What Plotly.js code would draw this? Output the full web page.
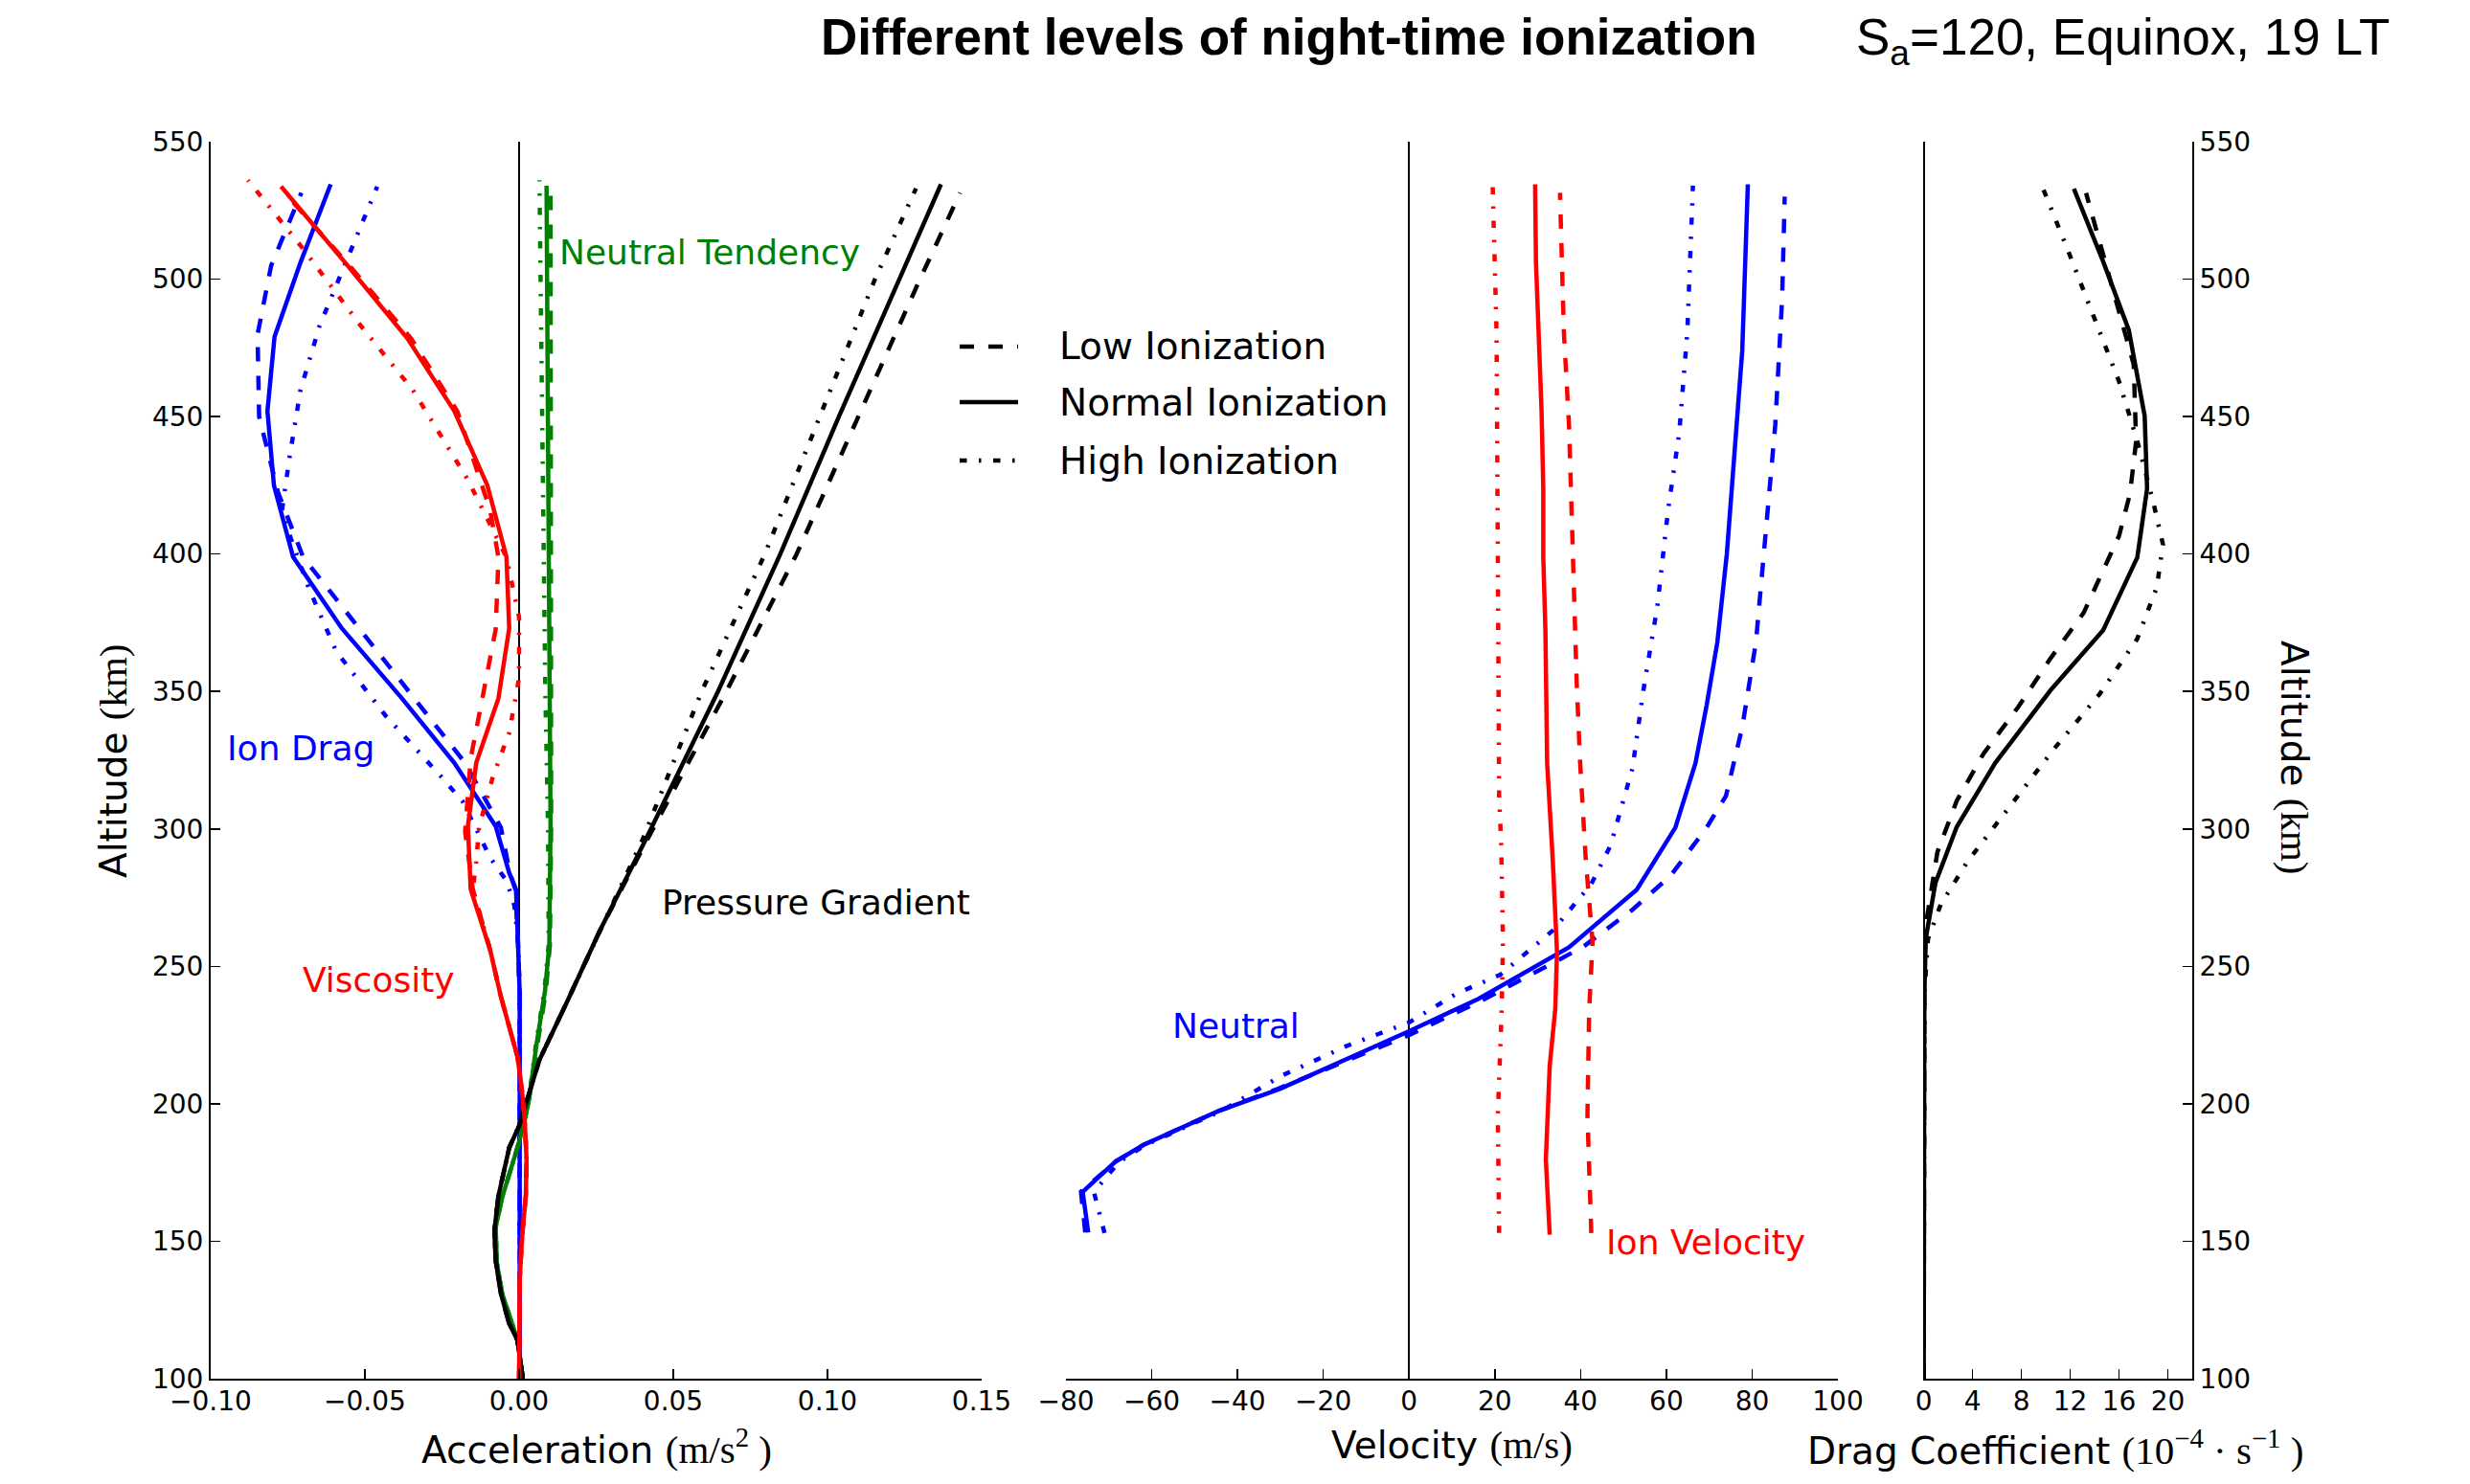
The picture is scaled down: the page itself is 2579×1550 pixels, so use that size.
<!DOCTYPE html>
<html>
<head>
<meta charset="utf-8">
<script src="https://cdn.plot.ly/plotly-3.0.1.min.js"></script>
<style>html,body{margin:0;padding:0;background:#fff;}</style>
</head>
<body>
<div id="chart" style="width:2579px;height:1550px;"></div>
<script>
// ---------------- Panel 1 : Acceleration (m/s^2) ----------------
const ionDragNormalAlt = [100, 150, 200, 240, 260, 278, 284, 301, 324, 347.5, 373, 399, 425, 452, 479, 506, 534.5];
const ionDragNormal    = [0.0002, 0.0002, 0.0002, 0.0002, -0.0004, -0.0010, -0.0032, -0.0076, -0.0210, -0.0380, -0.0575, -0.0733, -0.0795, -0.0816, -0.0793, -0.0709, -0.0611];
const ionDragLowAlt    = [100, 150, 200, 240, 260, 278, 284, 300.5, 324, 350.6, 375.5, 398.8, 422.2, 450, 479.9, 504.9, 531.4];
const ionDragLow       = [0.0002, 0.0002, 0.0002, 0.0002, -0.0004, -0.0012, -0.0030, -0.0059, -0.0175, -0.0362, -0.0540, -0.0700, -0.0781, -0.0843, -0.0848, -0.0804, -0.0706];
const ionDragHighAlt   = [100, 150, 200, 240, 260, 272, 281, 289.6, 310, 319.3, 341.2, 364.6, 387.9, 415, 434.7, 459.6, 483, 509.5, 533.7];
const ionDragHigh      = [0.0002, 0.0002, 0.0002, 0.0002, -0.0004, -0.0015, -0.0040, -0.0094, -0.0183, -0.0255, -0.0433, -0.0593, -0.0683, -0.0770, -0.0745, -0.0709, -0.0647, -0.0549, -0.0460];

const viscNormalAlt = [100, 105, 136, 152, 167, 180, 195, 206, 217, 239, 256, 278, 301, 324, 347.5, 373, 399, 425, 452, 478.4, 506.4, 533.7];
const viscNormal    = [0.0000, 0.0000, 0.0002, 0.0010, 0.0022, 0.0024, 0.0018, 0.0008, -0.0005, -0.0059, -0.0094, -0.0157, -0.0166, -0.0139, -0.0067, -0.0032, -0.0041, -0.0103, -0.0210, -0.0362, -0.0567, -0.0772];
const viscLowAlt    = [100, 105, 136, 152, 167, 180, 195, 206, 217, 239, 256, 278, 299, 325.6, 350.7, 372.5, 398.8, 416, 451.9, 478.4, 504.9, 531.4];
const viscLow       = [0.0000, 0.0000, 0.0002, 0.0010, 0.0022, 0.0024, 0.0018, 0.0008, -0.0005, -0.0059, -0.0094, -0.0150, -0.0175, -0.0157, -0.0112, -0.0076, -0.0067, -0.0094, -0.0200, -0.0350, -0.0550, -0.0760];
const viscHighAlt   = [100, 105, 136, 152, 167, 180, 195, 206, 217, 239, 256, 278, 288, 300.5, 319, 335, 355, 377, 398.8, 427, 459.6, 483, 511, 536];
const viscHigh      = [0.0000, 0.0000, 0.0002, 0.0010, 0.0022, 0.0024, 0.0018, 0.0008, -0.0005, -0.0059, -0.0094, -0.0150, -0.0139, -0.0130, -0.0085, -0.0032, 0.0000, 0.0000, -0.0041, -0.0166, -0.0344, -0.0513, -0.0700, -0.0879];

const tendNormalAlt = [100, 114, 131, 142, 155, 166, 186, 200, 222, 241, 258, 302, 420, 534];
const tendNormal    = [0.0012, -0.0005, -0.0055, -0.0072, -0.0076, -0.0055, 0.0000, 0.0030, 0.0057, 0.0084, 0.0098, 0.0102, 0.0095, 0.0089];
const tendLowAlt    = [100, 114, 131, 142, 155, 166, 186, 200, 222, 241, 258, 302, 420, 531];
const tendLow       = [0.0012, -0.0005, -0.0055, -0.0072, -0.0076, -0.0055, 0.0000, 0.0030, 0.0060, 0.0087, 0.0100, 0.0104, 0.0103, 0.0102];
const tendHighAlt   = [100, 114, 131, 142, 155, 166, 186, 200, 222, 241, 258, 300, 350, 450, 536];
const tendHigh      = [0.0012, -0.0005, -0.0055, -0.0072, -0.0076, -0.0055, 0.0000, 0.0030, 0.0055, 0.0082, 0.0096, 0.0094, 0.0085, 0.0075, 0.0066];

const pressNormalAlt = [100, 114, 120, 131, 143, 154, 166.5, 184, 192, 200, 216, 237, 263, 296, 350, 400, 450, 500, 534.5];
const pressNormal    = [0.0012, -0.0005, -0.0032, -0.0059, -0.0076, -0.0080, -0.0067, -0.0032, 0.0000, 0.0022, 0.0066, 0.0155, 0.0262, 0.0410, 0.0645, 0.0847, 0.1037, 0.1233, 0.1368];
const pressLowAlt    = [100, 114, 120, 131, 143, 154, 166.5, 184, 192, 200, 216, 237, 263, 296, 350, 400, 450, 500, 531.4];
const pressLow       = [0.0012, -0.0005, -0.0032, -0.0059, -0.0076, -0.0080, -0.0067, -0.0032, 0.0000, 0.0022, 0.0066, 0.0155, 0.0262, 0.0415, 0.0672, 0.0900, 0.1100, 0.1300, 0.1430];
const pressHighAlt   = [100, 114, 120, 131, 143, 154, 166.5, 184, 192, 200, 216, 237, 263, 296, 350, 400, 450, 500, 533];
const pressHigh      = [0.0012, -0.0005, -0.0032, -0.0059, -0.0076, -0.0080, -0.0067, -0.0032, 0.0000, 0.0022, 0.0066, 0.0155, 0.0262, 0.0400, 0.0592, 0.0797, 0.0975, 0.1154, 0.1287];

// ---------------- Panel 2 : Velocity (m/s) ----------------
const neutralNormalAlt = [153.2, 168, 179, 185, 197.6, 205.5, 226.5, 238.2, 256.9, 277.9, 300.5, 324, 345, 368, 400, 447, 474, 534.5];
const neutralNormal    = [-74.8, -76.1, -68.4, -62.0, -44.1, -30.0, 0.15, 16.2, 37.3, 53.1, 62.1, 66.8, 69.4, 71.9, 74.1, 76.4, 77.7, 79.0];
const neutralLowAlt    = [153.2, 168, 179, 185, 197.6, 205.5, 225, 238, 257, 270.6, 283, 300.5, 312, 337, 368, 416, 447, 493, 530];
const neutralLow       = [-75.5, -76.5, -68.4, -62.0, -44.1, -30.5, 0.0, 17.5, 40.5, 52.1, 61.0, 69.4, 73.9, 77.7, 80.9, 83.5, 85.4, 87.0, 87.6];
const neutralHighAlt   = [153, 168, 179, 185, 197.6, 210, 221, 229.6, 240, 247, 263, 280, 294, 322, 350, 381, 416, 444, 481, 534];
const neutralHigh      = [-71.0, -73.5, -67.5, -61.5, -43.5, -30.0, -14.6, 0.0, 11.0, 21.3, 33.5, 42.5, 47.0, 52.1, 54.6, 57.9, 60.4, 63.0, 64.9, 66.2];

const ionVelNormalAlt = [152.4, 179.7, 213.8, 234.5, 255.4, 289, 324, 372, 399, 424, 452, 506, 534.5];
const ionVelNormal    = [32.8, 31.9, 32.8, 34.1, 34.5, 33.5, 32.2, 31.8, 31.3, 31.3, 30.9, 29.6, 29.4];
const ionVelLowAlt    = [153, 196, 234, 259, 289, 324, 353, 384.6, 416, 447, 481, 531.4];
const ionVelLow       = [42.5, 41.6, 42.0, 42.8, 41.2, 39.9, 39.1, 38.4, 37.9, 37.3, 36.1, 35.2];
const ionVelHighAlt   = [153, 196, 234, 259, 294, 312, 400, 481, 534];
const ionVelHigh      = [21.0, 20.7, 21.6, 21.9, 21.5, 21.0, 20.7, 20.4, 19.5];

// ---------------- Panel 3 : Drag coefficient (1e-4 s^-1) ----------------
const dragNormalAlt = [100, 200, 225, 240, 260.2, 280.4, 300.7, 324, 350.5, 372.3, 398.8, 423.8, 450.3, 481.5, 506.4, 532.9];
const dragNormal    = [0, 0, 0.02, 0.05, 0.17, 0.96, 2.7, 5.86, 10.4, 14.7, 17.5, 18.3, 18.1, 16.8, 14.7, 12.3];
const dragLowAlt    = [100, 200, 240, 262, 269.5, 291.6, 310.2, 327.4, 344.4, 361.5, 378.6, 397.3, 406.6, 422, 441, 469, 494, 531.3];
const dragLow       = [0, 0, 0.02, 0.06, 0.33, 1.12, 2.7, 4.9, 7.75, 10.3, 13.1, 15.0, 16.0, 16.9, 17.4, 17.2, 15.6, 13.3];
const dragHighAlt   = [100, 200, 240, 260, 272.6, 288.2, 307, 328.7, 349, 369.2, 388, 403.5, 419, 441, 462.8, 484.6, 509.5, 536];
const dragHigh      = [0, 0, 0.05, 0.35, 1.4, 3.6, 6.8, 10.6, 14.4, 17.5, 19.1, 19.6, 18.8, 17.5, 16.0, 14.1, 11.9, 9.5];

// ---------------- Labels ----------------
const accelTicks = [-0.10, -0.05, 0.00, 0.05, 0.10, 0.15];
const velTicks   = [-80, -60, -40, -20, 0, 20, 40, 60, 80, 100];
const dragTicks  = [0, 4, 8, 12, 16, 20];
const altTicks   = [100, 150, 200, 250, 300, 350, 400, 450, 500, 550];
const legendLabels = ['Low Ionization', 'Normal Ionization', 'High Ionization'];

// ---------------- Styling ----------------
const W = 2579, H = 1550;
const BLUE = '#0000ff', RED = '#ff0000', GREEN = '#008000', BLACK = '#000000';
const LW = 4.5;
const DASH = {low: '15px,15px', normal: 'solid', high: '7.5px,12.5px,2.5px,12.5px'};
const TICKFONT = {family: 'DejaVu Sans', size: 28, color: '#000'};
const SERIF = 'Liberation Serif';

function tr(x, y, color, level, xa, ya) {
  return {x: x, y: y, type: 'scatter', mode: 'lines', xaxis: xa, yaxis: ya,
          line: {color: color, width: LW, dash: DASH[level]}, showlegend: false, hoverinfo: 'skip'};
}

const traces = [
  tr(ionDragLow, ionDragLowAlt, BLUE, 'low', 'x', 'y'),
  tr(ionDragNormal, ionDragNormalAlt, BLUE, 'normal', 'x', 'y'),
  tr(ionDragHigh, ionDragHighAlt, BLUE, 'high', 'x', 'y'),
  tr(tendLow, tendLowAlt, GREEN, 'low', 'x', 'y'),
  tr(tendNormal, tendNormalAlt, GREEN, 'normal', 'x', 'y'),
  tr(tendHigh, tendHighAlt, GREEN, 'high', 'x', 'y'),
  tr(pressLow, pressLowAlt, BLACK, 'low', 'x', 'y'),
  tr(pressNormal, pressNormalAlt, BLACK, 'normal', 'x', 'y'),
  tr(pressHigh, pressHighAlt, BLACK, 'high', 'x', 'y'),
  tr(viscLow, viscLowAlt, RED, 'low', 'x', 'y'),
  tr(viscNormal, viscNormalAlt, RED, 'normal', 'x', 'y'),
  tr(viscHigh, viscHighAlt, RED, 'high', 'x', 'y'),

  tr(neutralLow, neutralLowAlt, BLUE, 'low', 'x2', 'y2'),
  tr(neutralNormal, neutralNormalAlt, BLUE, 'normal', 'x2', 'y2'),
  tr(neutralHigh, neutralHighAlt, BLUE, 'high', 'x2', 'y2'),
  tr(ionVelLow, ionVelLowAlt, RED, 'low', 'x2', 'y2'),
  tr(ionVelNormal, ionVelNormalAlt, RED, 'normal', 'x2', 'y2'),
  tr(ionVelHigh, ionVelHighAlt, RED, 'high', 'x2', 'y2'),

  tr(dragLow, dragLowAlt, BLACK, 'low', 'x3', 'y3'),
  tr(dragNormal, dragNormalAlt, BLACK, 'normal', 'x3', 'y3'),
  tr(dragHigh, dragHighAlt, BLACK, 'high', 'x3', 'y3')
];

const px = v => v / W;
const py = v => 1 - v / H;
const yDom = [py(1440), py(148)];

const baseX = {
  ticks: 'inside', ticklen: 10, tickwidth: 1.5, tickcolor: '#000',
  showline: true, linecolor: '#000', linewidth: 2, showgrid: false,
  zeroline: true, zerolinecolor: '#000', zerolinewidth: 2,
  tickfont: TICKFONT, fixedrange: true, ticklabelstandoff: -3
};
const baseY = {
  range: [100, 550], tickmode: 'array', tickvals: altTicks, ticktext: altTicks.map(String),
  ticks: 'inside', ticklen: 10, tickwidth: 1.5, tickcolor: '#000',
  showline: true, linecolor: '#000', linewidth: 2, showgrid: false, zeroline: false,
  tickfont: TICKFONT, domain: yDom, fixedrange: true
};

const ann = [];
function note(text, x, y, xref, yref, opts) {
  ann.push(Object.assign({text: text, x: x, y: y, xref: xref, yref: yref, showarrow: false,
    xanchor: 'left', yanchor: 'middle', font: {family: 'DejaVu Sans', size: 36, color: '#000'}}, opts || {}));
}
// in-plot labels (data coords)
note('Neutral Tendency', 0.0124, 509.6, 'x', 'y', {font: {family: 'DejaVu Sans', size: 36, color: GREEN}});
note('Ion Drag', -0.0953, 329.2, 'x', 'y', {font: {family: 'DejaVu Sans', size: 36, color: BLUE}});
note('Viscosity', -0.0709, 245.2, 'x', 'y', {font: {family: 'DejaVu Sans', size: 36, color: RED}});
note('Pressure Gradient', 0.0455, 273.4, 'x', 'y', {font: {family: 'DejaVu Sans', size: 36, color: BLACK}});
note('Neutral', -55.7, 228.4, 'x2', 'y2', {font: {family: 'DejaVu Sans', size: 36, color: BLUE}});
note('Ion Velocity', 45.4, 149.5, 'x2', 'y2', {font: {family: 'DejaVu Sans', size: 36, color: RED}});

// axis titles
const labFont = {family: 'DejaVu Sans', size: 39, color: '#000'};
const mathSpan = s => '<span style="font-family:' + SERIF + ';font-size:41px">' + s + '</span>';
note('Acceleration ' + mathSpan('(m/s<sup>2</sup> )'), px(622.5), py(1511), 'paper', 'paper', {xanchor: 'center', font: labFont});
note('Velocity ' + mathSpan('(m/s)'), px(1516), py(1509), 'paper', 'paper', {xanchor: 'center', font: labFont});
note('Drag Coefficient ' + mathSpan('(10<sup>\u22124</sup> \u00b7 s<sup>\u22121</sup> )'), px(2146), py(1512), 'paper', 'paper', {xanchor: 'center', font: labFont});
note('Altitude ' + mathSpan('(km)'), px(118), py(795), 'paper', 'paper', {xanchor: 'center', textangle: -90, font: labFont});
note('Altitude ' + mathSpan('(km)'), px(2396), py(791), 'paper', 'paper', {xanchor: 'center', textangle: 90, font: labFont});

// figure title
note('<b>Different levels of night-time ionization</b>', px(1346), py(38), 'paper', 'paper', {xanchor: 'center', font: {family: 'Liberation Sans', size: 53, color: '#000'}});
note('S<sub>a</sub>=120, Equinox, 19 LT', px(1936), py(42), 'paper', 'paper', {font: {family: 'Liberation Sans', size: 53, color: '#000'}});

// legend (key lines + labels)
const legendRows = [362, 420, 481];
const legendDash = [DASH.low, DASH.normal, DASH.high];
const shapes = [];
legendLabels.forEach((lab, i) => {
  shapes.push({type: 'line', xref: 'paper', yref: 'paper', x0: px(1002), x1: px(1063),
    y0: py(legendRows[i]), y1: py(legendRows[i]), line: {color: '#000', width: LW, dash: legendDash[i]}});
  note(lab, px(1104), py(legendRows[i]), 'paper', 'paper', {font: {family: 'DejaVu Sans', size: 39, color: '#000'}});
});

const layout = {
  width: W, height: H,
  margin: {l: 0, r: 0, t: 0, b: 0},
  paper_bgcolor: '#fff', plot_bgcolor: '#fff',
  showlegend: false,
  xaxis: Object.assign({}, baseX, {domain: [px(220), px(1025)], range: [-0.1, 0.15], anchor: 'y',
    tickmode: 'array', tickvals: accelTicks, ticktext: accelTicks.map(v => (v < 0 ? '\u2212' : '') + Math.abs(v).toFixed(2))}),
  yaxis: Object.assign({}, baseY, {anchor: 'x'}),
  xaxis2: Object.assign({}, baseX, {domain: [px(1113), px(1919)], range: [-80, 100], anchor: 'y2',
    tickmode: 'array', tickvals: velTicks, ticktext: velTicks.map(v => (v < 0 ? '\u2212' : '') + Math.abs(v))}),
  yaxis2: {domain: yDom, range: [100, 550], anchor: 'x2', showline: false, showticklabels: false,
    ticks: '', showgrid: false, zeroline: false, fixedrange: true},
  xaxis3: Object.assign({}, baseX, {domain: [px(2008), px(2289)], range: [-0.05, 22], anchor: 'y3',
    tickmode: 'array', tickvals: dragTicks, ticktext: dragTicks.map(String)}),
  yaxis3: Object.assign({}, baseY, {anchor: 'x3', side: 'right'}),
  annotations: ann,
  shapes: shapes
};

Plotly.newPlot('chart', traces, layout, {staticPlot: true, displayModeBar: false});
</script>
</body>
</html>
